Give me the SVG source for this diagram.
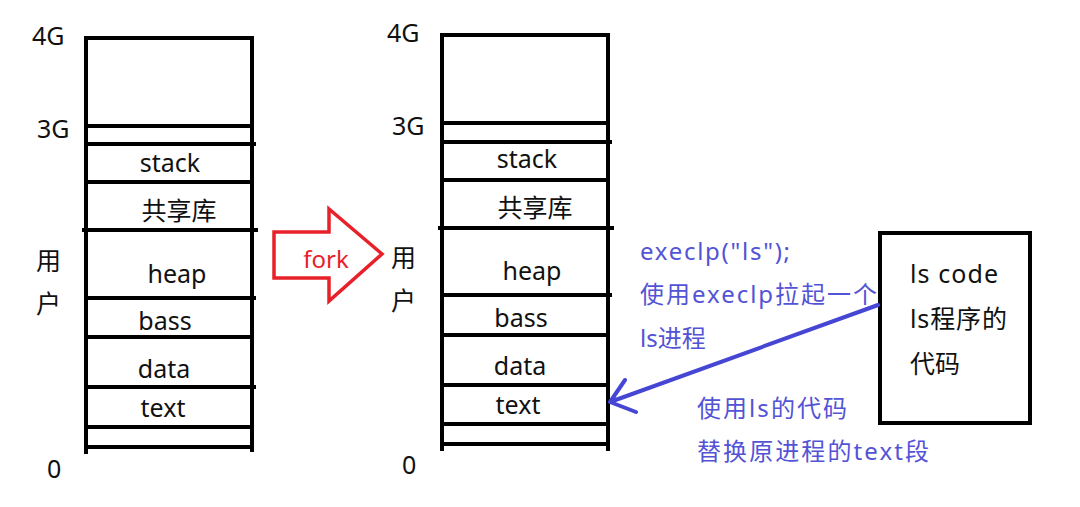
<svg xmlns="http://www.w3.org/2000/svg" width="1080" height="507" viewBox="0 0 1080 507">
<style>
.ln{stroke:#000;stroke-width:4;fill:none;stroke-linecap:square}
.lbl{font-family:"Noto Sans","Noto Sans CJK SC",sans-serif;font-size:25px;fill:#111}
.seg{font-family:"Noto Sans","Noto Sans CJK SC",sans-serif;font-size:25px;fill:#111;text-anchor:middle}
.blue{font-family:"Noto Sans","Noto Sans CJK SC",sans-serif;font-size:24px;fill:#5353d6}
.arr{stroke:#4646d4;stroke-width:4;fill:none;stroke-linecap:round;stroke-linejoin:round}
</style>
<rect width="1080" height="507" fill="#fff"/>
<g id="left-stack">
<path class="ln" d="M86 38 H252 M86 38 V452 M252 38 V450 M86 126 H252 M86 144 H254 M86 182 H252 M84 230 H256 M86 298 H254 M86 337 H252 M86 387 H254 M86 427 H252 M86 447 H252"/>
<text class="lbl" x="32" y="45">4G</text>
<text class="lbl" x="37" y="138">3G</text>
<text class="lbl" x="36" y="270">用</text>
<text class="lbl" x="36" y="313">户</text>
<text class="lbl" x="47" y="478">0</text>
<text class="seg" x="170" y="172">stack</text>
<text class="seg" x="179" y="220">共享库</text>
<text class="seg" x="177" y="283">heap</text>
<text class="seg" x="165" y="330">bass</text>
<text class="seg" x="164" y="378">data</text>
<text class="seg" x="163" y="417">text</text>
</g>
<g id="fork-arrow">
<path d="M274 232 H329 V209 L382 254 L329 301 V278 H274 Z" fill="none" stroke="#e8202a" stroke-width="3.5"/>
<text x="326" y="268" font-family="Noto Sans,sans-serif" font-size="24" fill="#e8202a" text-anchor="middle">fork</text>
</g>
<g id="right-stack">
<path class="ln" d="M442 35 H608 M442 35 V449 M608 35 V449 M442 123 H608 M442 142 H610 M442 180 H608 M440 228 H612 M442 295 H610 M442 335 H608 M442 385 H608 M442 424 H608 M442 444 H608"/>
<text class="lbl" x="387" y="42">4G</text>
<text class="lbl" x="392" y="135">3G</text>
<text class="lbl" x="391" y="267">用</text>
<text class="lbl" x="391" y="310">户</text>
<text class="lbl" x="402" y="474">0</text>
<text class="seg" x="527" y="168">stack</text>
<text class="seg" x="535" y="217">共享库</text>
<text class="seg" x="532" y="280">heap</text>
<text class="seg" x="521" y="327">bass</text>
<text class="seg" x="520" y="375">data</text>
<text class="seg" x="518" y="414">text</text>
</g>
<g id="ls-code-box">
<rect x="880" y="233" width="150" height="190" fill="none" stroke="#000" stroke-width="4"/>
<text class="lbl" x="910" y="283" textLength="88">ls code</text>
<text class="lbl" x="910" y="328" textLength="97">ls程序的</text>
<text class="lbl" x="910" y="373">代码</text>
</g>
<g id="connectors">
<path class="arr" d="M878 305 L610 402 M625 380 L610 402 L636 412"/>
</g>
<g id="annotations">
<text class="blue" x="640" y="260" textLength="150">execlp("ls");</text>
<text class="blue" x="640" y="303" textLength="237">使用execlp拉起一个</text>
<text class="blue" x="640" y="347">ls进程</text>
<text class="blue" x="697" y="417" textLength="150">使用ls的代码</text>
<text class="blue" x="697" y="460" textLength="232">替换原进程的text段</text>
</g>
</svg>
